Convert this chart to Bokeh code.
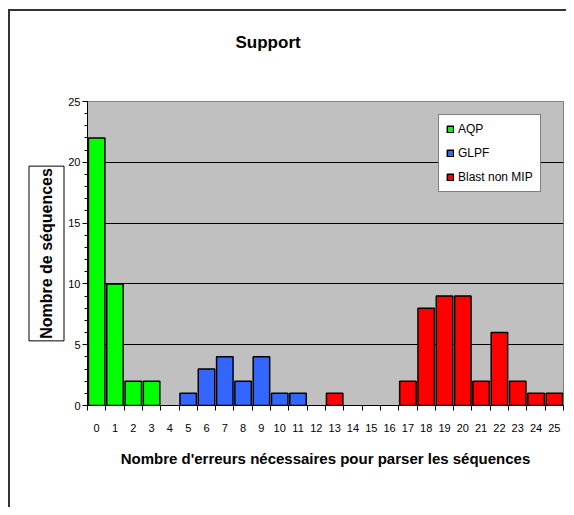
from bokeh.plotting import figure
from bokeh.models import (Range1d, FixedTicker, Legend, LegendItem, Title,
                          ColumnDataSource, InlineStyleSheet)
from bokeh.embed import file_html
from bokeh.resources import INLINE

# ---- data ----
aqp_x = [0, 1, 2, 3]
aqp_y = [22, 10, 2, 2]
glpf_x = [5, 6, 7, 8, 9, 10, 11]
glpf_y = [1, 3, 4, 2, 4, 1, 1]
blast_x = [13, 17, 18, 19, 20, 21, 22, 23, 24, 25]
blast_y = [1, 2, 8, 9, 9, 2, 6, 2, 1, 1]
x_ticks = list(range(0, 26))
y_ticks = [0, 5, 10, 15, 20, 25]

title_text = "Support"
x_title = "Nombre d'erreurs nécessaires pour parser les séquences"
y_title = "Nombre de séquences"
series_names = ["AQP", "GLPF", "Blast non MIP"]
colors = ["#00FF00", "#3366FF", "#FF0000"]

W, H = 566, 507
ML, MR, MT, MB = 87, 3, 101, 102
FONT = "Liberation Sans"

p = figure(width=W, height=H, output_backend="svg", toolbar_location=None,
           x_range=Range1d(-0.5, 25.5), y_range=Range1d(0, 25),
           min_border_left=ML, min_border_right=MR, min_border_top=MT, min_border_bottom=MB)
p.background_fill_color = "#C0C0C0"
p.border_fill_color = None
p.outline_line_color = "#808080"
p.outline_line_width = 1
# outer chart border (top and left edges of the Excel chart area)
p.stylesheets = [InlineStyleSheet(css=(
    ":host { background: "
    "linear-gradient(#333,#333) 8px 9px / 2px 700px no-repeat, "
    "linear-gradient(#333,#333) 8px 9px / 700px 2px no-repeat, white; }"))]

# title
p.title.text = title_text
p.title.align = "left"
p.title.offset = 148
p.title.standoff = 46
p.title.padding = dict(left=0, right=0, top=0, bottom=27)
p.title.text_font = FONT
p.title.text_font_style = "bold"
p.title.text_font_size = "17px"
p.title.text_color = "black"

# grids
p.xgrid.visible = False
p.ygrid.ticker = FixedTicker(ticks=y_ticks)
p.ygrid.grid_line_color = "black"
p.ygrid.grid_line_width = 1

# y axis
ya = p.yaxis[0]
ya.ticker = FixedTicker(ticks=y_ticks, minor_ticks=list(range(0, 26)))
ya.major_tick_out = 5
ya.major_tick_in = 0
ya.minor_tick_out = 3
ya.minor_tick_in = 0
ya.major_label_standoff = 2
ya.major_label_text_font = FONT
ya.major_label_text_font_size = "11px"
ya.major_label_text_color = "black"
ya.axis_line_color = "black"
ya.major_tick_line_color = "black"
ya.minor_tick_line_color = "black"

# x axis
xa = p.xaxis[0]
xa.ticker = FixedTicker(ticks=x_ticks, minor_ticks=[t - 0.5 for t in range(0, 27)])
xa.major_tick_out = 0
xa.major_tick_in = 0
xa.minor_tick_out = 5
xa.minor_tick_in = 0
xa.major_label_standoff = 13
xa.major_label_text_font = FONT
xa.major_label_text_font_size = "11px"
xa.major_label_text_color = "black"
xa.axis_line_color = "black"
xa.minor_tick_line_color = "black"
xa.axis_label = x_title
xa.axis_label_text_font = FONT
xa.axis_label_text_font_style = "bold"
xa.axis_label_text_font_size = "15px"
xa.axis_label_text_color = "black"
xa.axis_label_standoff = 15

# y axis title in a box
ytitle = Title(text=y_title, align="center", offset=4, standoff=3,
               text_font=FONT, text_font_style="bold", text_font_size="16px",
               text_color="black", border_line_color="black", border_line_width=1,
               background_fill_color="white",
               padding=dict(left=2, right=2, top=9, bottom=9))
p.add_layout(ytitle, "left")

# bars
renderers = []
for xs, ys, c in [(aqp_x, aqp_y, colors[0]), (glpf_x, glpf_y, colors[1]), (blast_x, blast_y, colors[2])]:
    src = ColumnDataSource(dict(x=xs, top=ys))
    r = p.vbar(x="x", top="top", width=0.9, bottom=0, source=src,
               fill_color=c, line_color="black", line_width=1.5)
    renderers.append(r)

legend = Legend(items=[LegendItem(label=n, renderers=[r]) for n, r in zip(series_names, renderers)],
                location=(351, 213))
legend.label_text_font = FONT
legend.label_text_font_size = "12px"
legend.label_text_color = "black"
legend.glyph_width = 8
legend.glyph_height = 8
legend.label_height = 14
legend.label_standoff = 4
legend.spacing = 10
legend.padding = 7
legend.margin = 0
legend.border_line_color = "black"
legend.border_line_width = 1
legend.background_fill_color = "white"
legend.background_fill_alpha = 1
p.add_layout(legend, "center")

open("out.html", "w").write(file_html(p, INLINE))
